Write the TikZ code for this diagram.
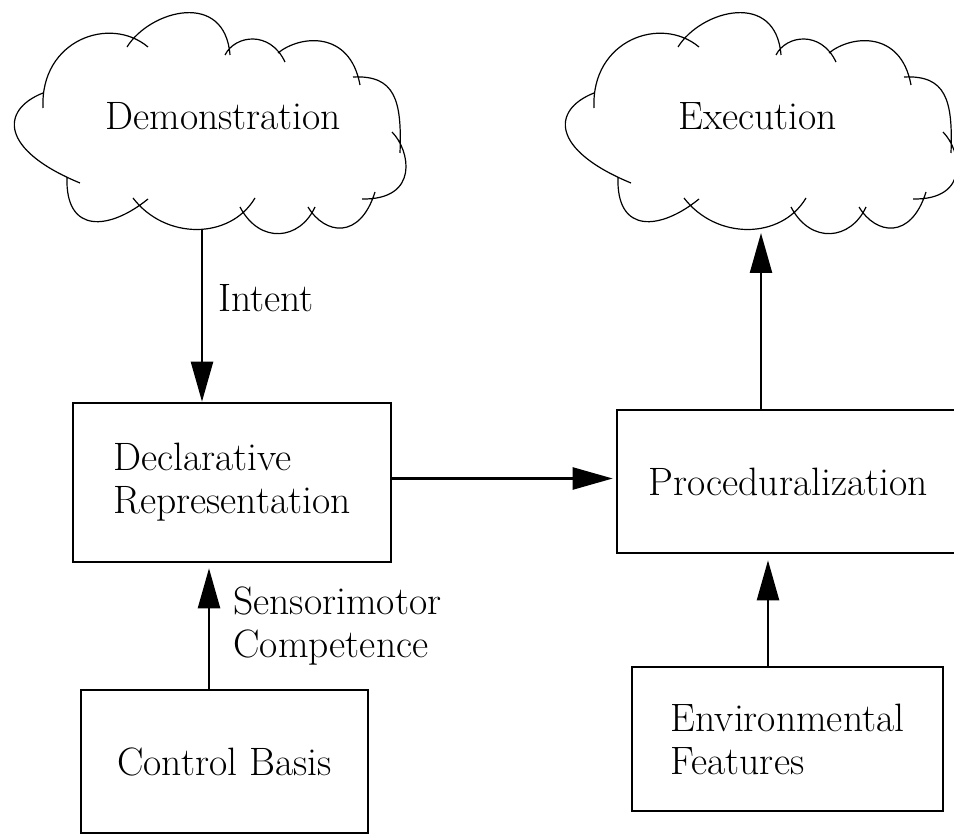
\documentclass[tikz,border=0pt]{standalone}
\usetikzlibrary{arrows.meta}
\begin{document}
\begin{tikzpicture}[x=0.5pt,y=-0.5pt,
  every node/.style={font=\fontsize{19.8}{21.5}\selectfont},
  boxnode/.style={draw,line width=1.3pt,minimum width=#1,inner sep=0pt,align=left},
  lbl/.style={anchor=base west,inner sep=0pt,align=left},
  cloudline/.style={line width=0.6pt},
  arr/.style={line width=1.2pt,-{Triangle[length=20pt,width=11pt]}}]
\useasboundingbox (0,0) rectangle (954,834);
\clip (0,0) rectangle (954,834);
\def\cloudpath{
  (80,183) .. controls (0,150) and (0,110) .. (43,93)
  (43,108) .. controls (40,40) and (110,15) .. (148,47)
  (127,47) .. controls (150,10) and (225,-10) .. (230,55)
  (225,55) .. controls (235,35) and (270,30) .. (285,62)
  (278,53) .. controls (300,35) and (350,30) .. (360,85)
  (353,77) .. controls (395,75) and (402,100) .. (400,153)
  (392,132) .. controls (410,150) and (420,200) .. (362,199)
  (375,192) .. controls (360,240) and (325,235) .. (308,207)
  (315,207) .. controls (300,240) and (260,245) .. (240,207)
  (255,198) .. controls (230,240) and (165,240) .. (133,198)
  (148,199) .. controls (110,230) and (65,235) .. (67,177)
}
% clouds
\draw[cloudline] \cloudpath;
\draw[cloudline,shift={(551,0)}] \cloudpath;
\node[lbl] (demo) at (105,130) {Demonstration};
\node[lbl] (exec) at (678,130) {Execution};
\coordinate (demob) at (202,229);
\coordinate (execb) at (761,229);
% boxes
\node[boxnode=159pt,minimum height=79.5pt] (decl) at (232,482.5) {Declarative\\Representation};
\node[boxnode=171pt,minimum height=71.5pt] (proc) at (788,481.5) {Proceduralization};
\node[boxnode=143.5pt,minimum height=71.5pt] (ctrl) at (224.5,761.5) {Control Basis};
\node[boxnode=155.5pt,minimum height=72pt] (env) at (787.5,739) {Environmental\\Features};
% connectors
\draw[arr] (demob) -- (decl.north -| demob);
\draw[arr,shorten >=1.5pt] ([yshift=2pt]decl.east) -- ([yshift=2pt]decl.east -| proc.west);
\draw[arr] (proc.north -| execb) -- ([yshift=-2pt]execb);
\draw[arr,shorten >=2.5pt] ([xshift=-7.75pt]ctrl.north) -- ([xshift=-7.75pt]ctrl.north |- decl.south);
\draw[arr,shorten >=3pt] ([xshift=-9.75pt]env.north) -- ([xshift=-9.75pt]env.north |- proc.south);
% labels
\node[lbl] (intent) at (218,312) {Intent};
\node[lbl] (senso) at (233,657) {Sensorimotor\\Competence};
\end{tikzpicture}
\end{document}
